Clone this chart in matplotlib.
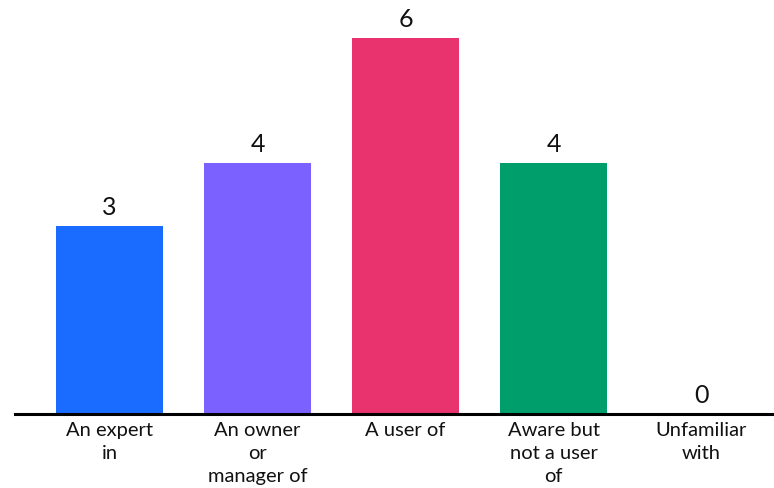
import matplotlib
matplotlib.use("Agg")
import matplotlib.pyplot as plt

categories = ["An expert\nin", "An owner\nor\nmanager of", "A user of", "Aware but\nnot a user\nof", "Unfamiliar\nwith"]
values = [3, 4, 6, 4, 0]
colors = ["#1A6BFF", "#7B61FF", "#E8336E", "#009E6B", "#B0B0B0"]

plt.rcParams['font.family'] = ['Lato', 'DejaVu Sans']

fig = plt.figure(figsize=(7.74, 4.88), dpi=100)
ax = fig.add_axes([15/774, 74/488, 759/774, 414/488])
x = list(range(len(categories)))
ax.bar(x, values, width=0.72, color=colors)
for xi, v in zip(x, values):
    ax.annotate(str(v), (xi, v), xytext=(0, 5), textcoords="offset points",
                ha="center", va="bottom", fontsize=18, color="#111111")
ax.set_xlim(-0.64, 4.49)
ax.set_ylim(0, 6.6)
ax.set_xticks(x)
ax.set_xticklabels(categories, fontsize=14.5, color="#111111", linespacing=1.4)
ax.tick_params(axis="x", length=0, pad=6)
ax.set_yticks([])
for s in ["top", "right", "left"]:
    ax.spines[s].set_visible(False)
ax.spines["bottom"].set_linewidth(2.2)
ax.spines["bottom"].set_color("#000000")
fig.savefig("out.png", dpi=100)
